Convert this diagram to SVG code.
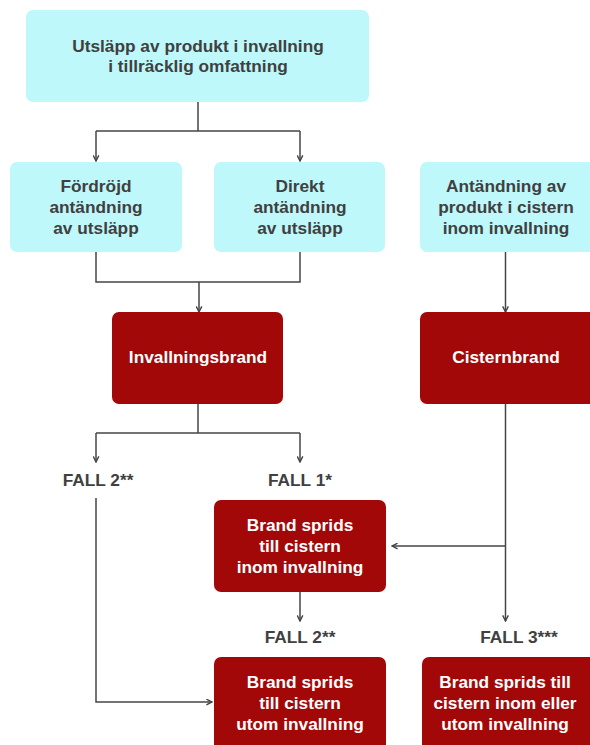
<svg xmlns="http://www.w3.org/2000/svg" width="590" height="745" viewBox="0 0 590 745">
<style>
.cyan{fill:#BFF8FA}
.red{fill:#A30808}
.t{font-family:"Liberation Sans",Arial,sans-serif;font-weight:bold;font-size:17.3px;text-anchor:middle}
.dk{fill:#404040}
.wh{fill:#ffffff}
.ln{fill:none;stroke:#454545;stroke-width:1.5}
</style>
<defs>
<marker id="ah" viewBox="0 0 10 10" refX="9" refY="5" markerWidth="7" markerHeight="7" orient="auto" markerUnits="userSpaceOnUse">
<path d="M1,1 L9,5 L1,9" fill="none" stroke="#454545" stroke-width="2"/>
</marker>
</defs>
<rect width="590" height="745" fill="#ffffff"/>
<g id="connectors">
<path class="ln" d="M198,102 V131"/>
<path class="ln" d="M96,131 H300"/>
<path class="ln" d="M96,131 V161" marker-end="url(#ah)"/>
<path class="ln" d="M300,131 V161" marker-end="url(#ah)"/>
<path class="ln" d="M96,252 V282 H300 V252"/>
<path class="ln" d="M199,282 V312" marker-end="url(#ah)"/>
<path class="ln" d="M505.5,252 V312" marker-end="url(#ah)"/>
<path class="ln" d="M198,404 V433"/>
<path class="ln" d="M96,433 H300"/>
<path class="ln" d="M96,433 V462" marker-end="url(#ah)"/>
<path class="ln" d="M300,433 V462" marker-end="url(#ah)"/>
<path class="ln" d="M96,498 V702 H212" marker-end="url(#ah)"/>
<path class="ln" d="M505.5,404 V621" marker-end="url(#ah)"/>
<path class="ln" d="M505.5,546 H392" marker-end="url(#ah)"/>
<path class="ln" d="M300,592 V621" marker-end="url(#ah)"/>
</g>
<g id="n_utslapp">
<rect class="cyan" x="26" y="10" width="343" height="92" rx="7"/>
<text class="t dk" x="198" y="52">Utsläpp av produkt i invallning</text>
<text class="t dk" x="198" y="72">i tillräcklig omfattning</text>
</g>
<g id="n_fordrojd">
<rect class="cyan" x="10" y="162" width="172" height="90" rx="7"/>
<text class="t dk" x="96" y="192">Fördröjd</text>
<text class="t dk" x="96" y="213">antändning</text>
<text class="t dk" x="96" y="234">av utsläpp</text>
</g>
<g id="n_direkt">
<rect class="cyan" x="214" y="162" width="171" height="90" rx="7"/>
<text class="t dk" x="300" y="192">Direkt</text>
<text class="t dk" x="300" y="213">antändning</text>
<text class="t dk" x="300" y="234">av utsläpp</text>
</g>
<g id="n_antandning">
<rect class="cyan" x="420" y="162" width="180" height="90" rx="7"/>
<text class="t dk" x="506" y="192">Antändning av</text>
<text class="t dk" x="506" y="213">produkt i cistern</text>
<text class="t dk" x="506" y="234">inom invallning</text>
</g>
<g id="n_invallningsbrand">
<rect class="red" x="112" y="312" width="171" height="92" rx="7"/>
<text class="t wh" x="198" y="363">Invallningsbrand</text>
</g>
<g id="n_cisternbrand">
<rect class="red" x="420" y="312" width="180" height="92" rx="7"/>
<text class="t wh" x="506" y="363">Cisternbrand</text>
</g>
<g id="l_fall2a"><text class="t dk" x="98" y="486">FALL 2**</text></g>
<g id="l_fall1"><text class="t dk" x="300" y="486">FALL 1*</text></g>
<g id="n_inom">
<rect class="red" x="214" y="500" width="172" height="92" rx="7"/>
<text class="t wh" x="300" y="531">Brand sprids</text>
<text class="t wh" x="300" y="552">till cistern</text>
<text class="t wh" x="300" y="573">inom invallning</text>
</g>
<g id="l_fall2b"><text class="t dk" x="300" y="643">FALL 2**</text></g>
<g id="l_fall3"><text class="t dk" x="519" y="643">FALL 3***</text></g>
<g id="n_utom">
<rect class="red" x="214" y="657" width="172" height="100" rx="7"/>
<text class="t wh" x="300" y="688">Brand sprids</text>
<text class="t wh" x="300" y="709">till cistern</text>
<text class="t wh" x="300" y="730">utom invallning</text>
</g>
<g id="n_inomeller">
<rect class="red" x="422" y="657" width="178" height="100" rx="7"/>
<text class="t wh" x="505" y="688">Brand sprids till</text>
<text class="t wh" x="505" y="709">cistern inom eller</text>
<text class="t wh" x="505" y="730">utom invallning</text>
</g>
</svg>
